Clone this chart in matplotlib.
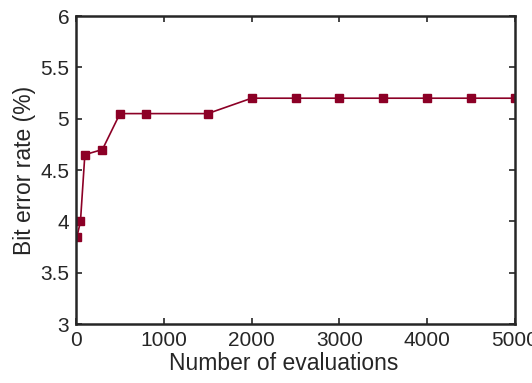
import matplotlib.pyplot as plt
import numpy as np

plt.rcParams['font.family'] = ['Liberation Sans', 'DejaVu Sans']

evaluations = [10, 50, 100, 300, 500, 800, 1500, 2000, 2500, 3000, 3500, 4000, 4500, 5000]
ber = [3.85, 4.0, 4.65, 4.7, 5.05, 5.05, 5.05, 5.2, 5.2, 5.2, 5.2, 5.2, 5.2, 5.2]

axis_col = '#262626'
line_col = '#8c0026'

fig = plt.figure(figsize=(5.32, 3.83), dpi=100)
ax = fig.add_axes([0.143, 0.154, 0.825, 0.804])

ax.plot(evaluations, ber, color=line_col, lw=1.2, marker='s', ms=6,
        mfc=line_col, mec=line_col)

ax.set_xlim(0, 5000)
ax.set_ylim(3, 6)
ax.set_xticks(np.arange(0, 5001, 1000))
ax.set_yticks(np.arange(3, 6.01, 0.5))
ax.set_yticklabels(['3', '3.5', '4', '4.5', '5', '5.5', '6'])

ax.tick_params(direction='in', top=True, right=True, length=4, width=1.2,
               colors=axis_col, labelsize=15, pad=5)
for s in ax.spines.values():
    s.set_color(axis_col)
    s.set_linewidth(1.8)

ax.set_xlabel('Number of evaluations', fontsize=16.5, color=axis_col)
ax.xaxis.set_label_coords(0.474, -0.09)
ax.set_ylabel('Bit error rate (%)', fontsize=16.5, color=axis_col, labelpad=3)

fig.savefig('out.png', dpi=100)
